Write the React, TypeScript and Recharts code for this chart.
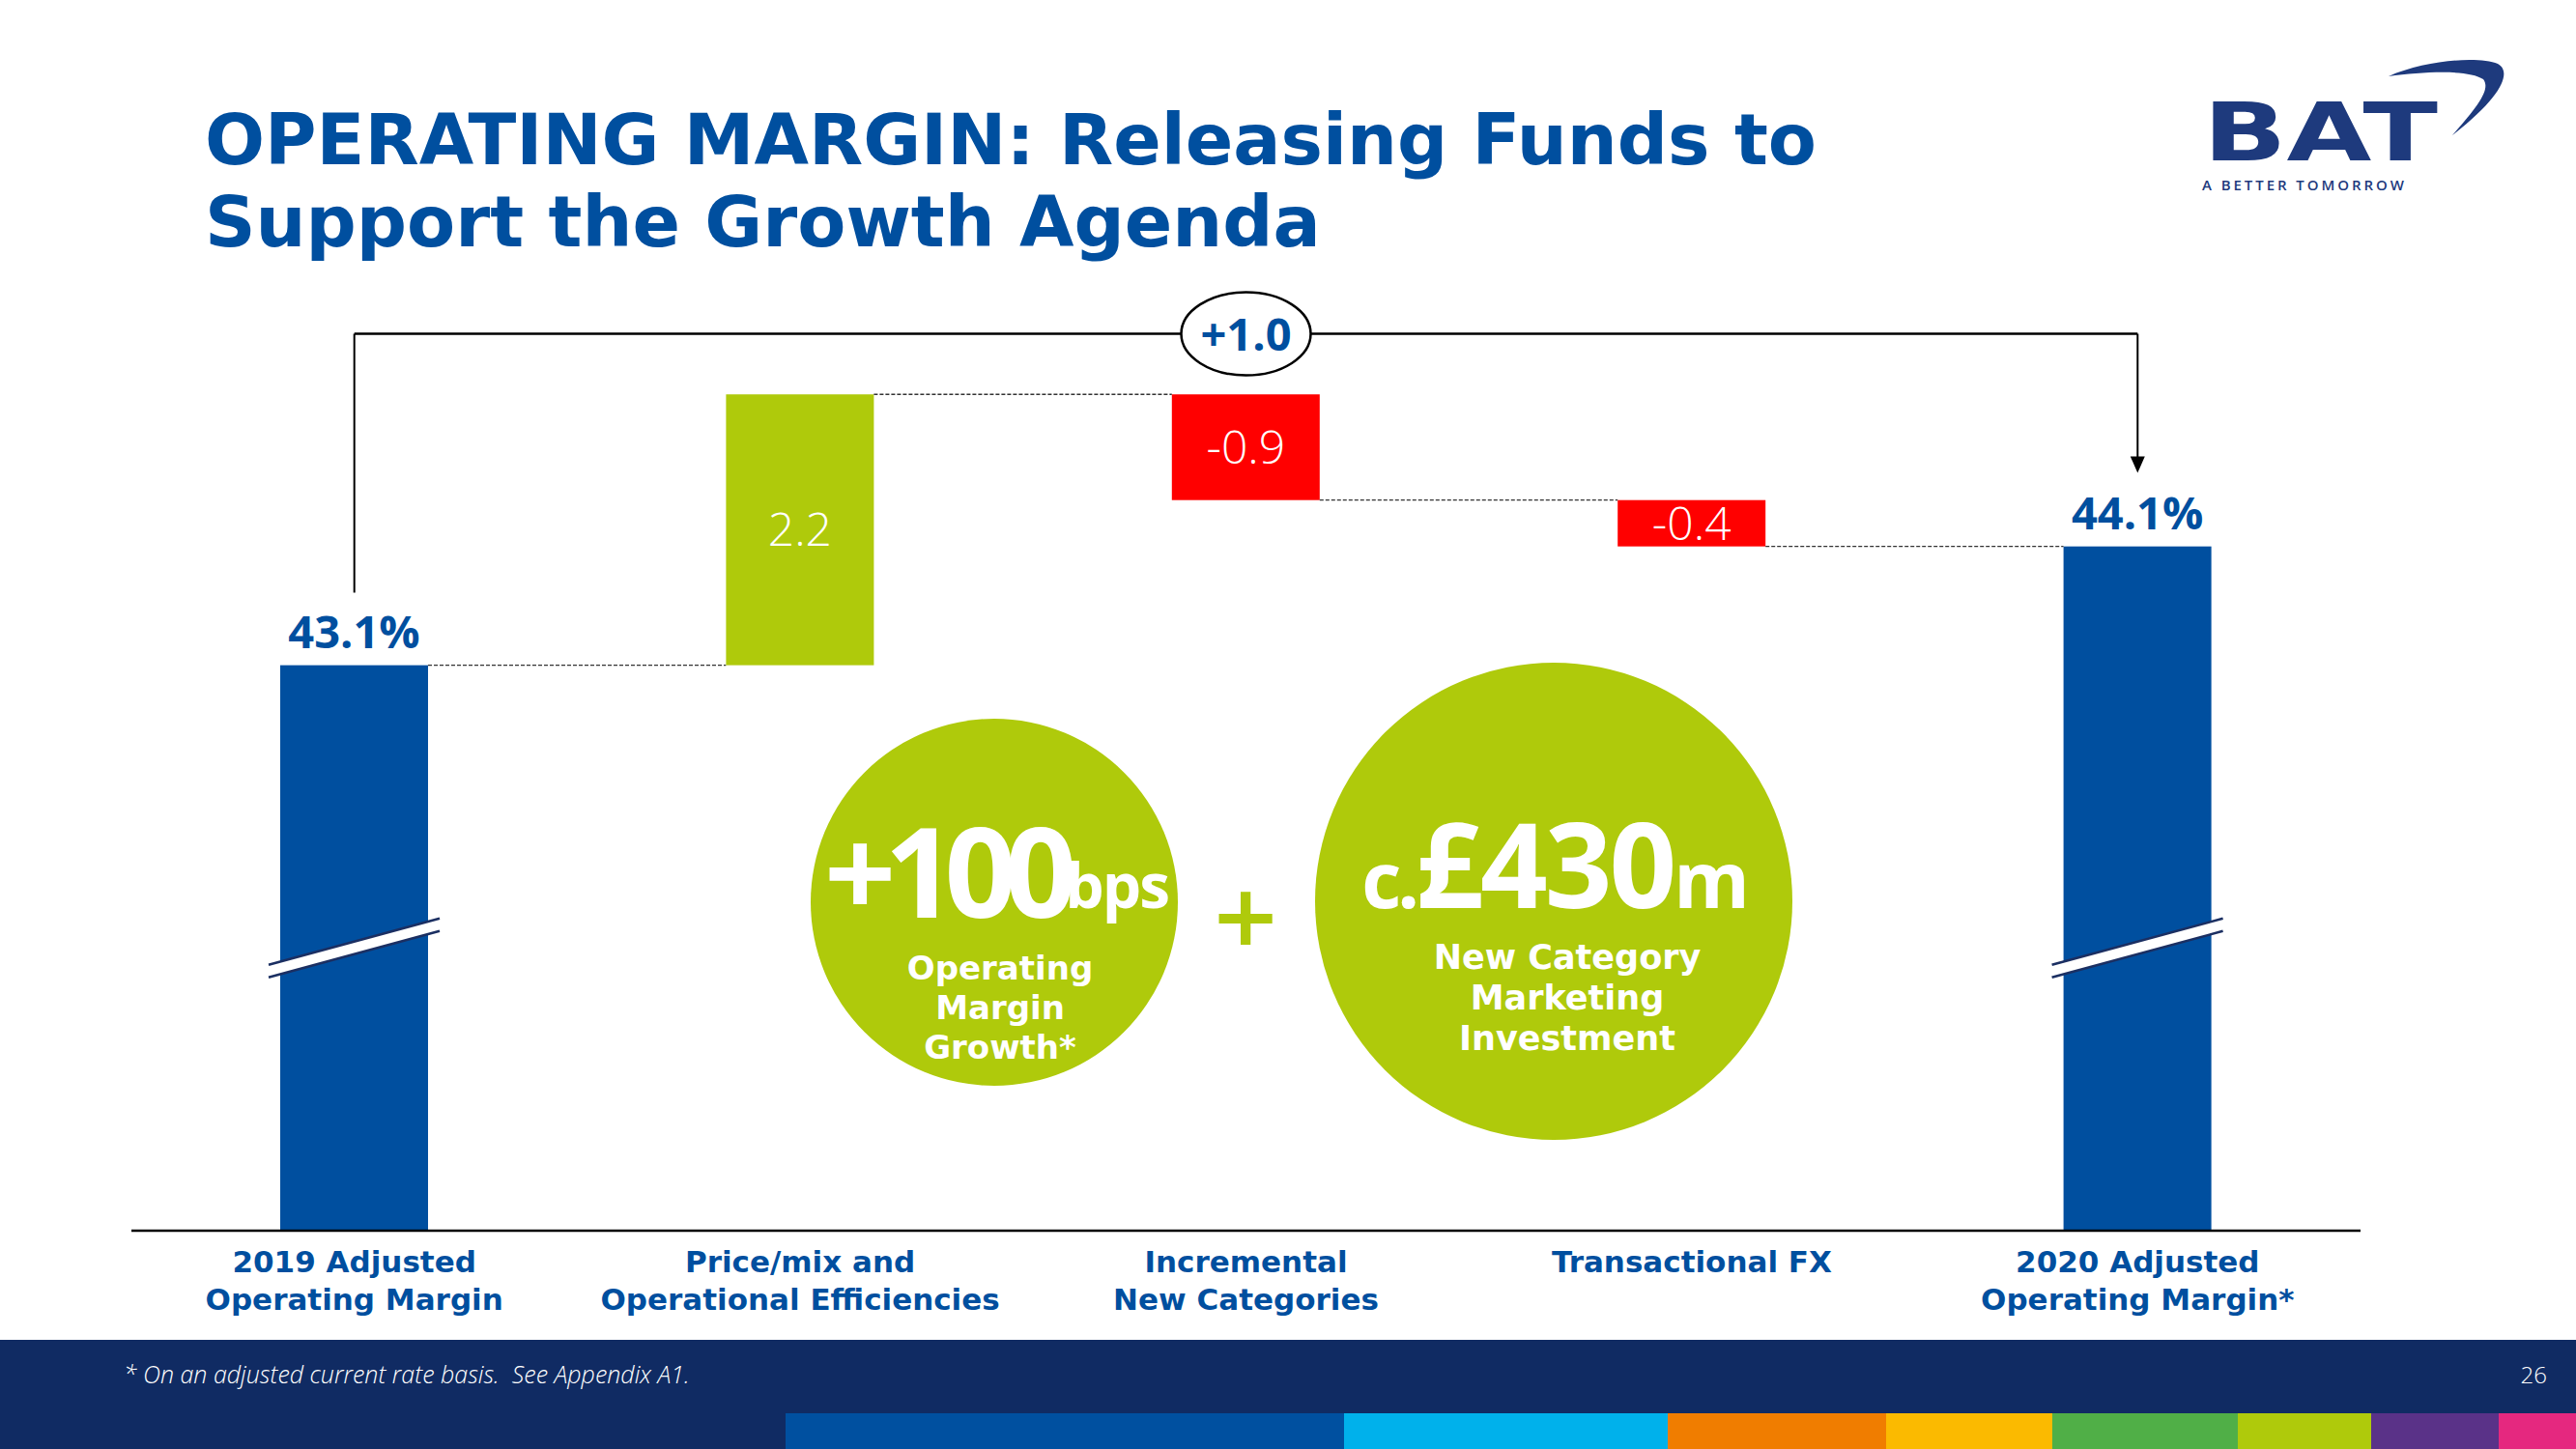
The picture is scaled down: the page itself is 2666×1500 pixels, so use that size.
import React from 'react';
import { ComposedChart, Bar, XAxis, YAxis, ReferenceLine, ReferenceDot } from 'recharts';

document.body.style.margin = '0';

// chart data
const categories = [
  '2019 Adjusted Operating Margin',
  'Price/mix and Operational Efficiencies',
  'Incremental New Categories',
  'Transactional FX',
  '2020 Adjusted Operating Margin*',
];
const tickLines = [
  ['2019 Adjusted', 'Operating Margin'],
  ['Price/mix and', 'Operational Efficiencies'],
  ['Incremental', 'New Categories'],
  ['Transactional FX'],
  ['2020 Adjusted', 'Operating Margin*'],
];
const startMargin = 43.1;
const endMargin = 44.1;
// step sizes as drawn (labels are rounded)
const steps = [2.28, -0.89, -0.39];
const valueLabels = ['43.1%', '2.2', '-0.9', '-0.4', '44.1%'];
const totalChangeLabel = '+1.0';

const WIDTH = 2666;
const HEIGHT = 1500;
const XAXIS_H = 100;
const MARGIN = { top: 332, right: 223, bottom: 126, left: 136 };
const Y_MIN = 38.34;
const Y_MAX = 46.0;
const BAR_SIZE = 153;
const BAND = (WIDTH - MARGIN.left - MARGIN.right) / categories.length;
const BREAK_LEVEL = 40.72;
const BRACKET_LEVEL = 45.89;
const LEFT_LEG_END = 43.71;
const ARROW_TIP = 44.72;

const BLUE = '#004F9F';
const LIME = '#AFCA0B';
const RED = '#FF0000';
const NAVY = '#102B63';
const LOGO = '#1E3A7D';
const COLORS: Record<string, string> = { total: BLUE, up: LIME, down: RED };

let level = startMargin;
const data = categories.map((name, i) => {
  if (i === 0 || i === categories.length - 1) {
    const v = i === 0 ? startMargin : endMargin;
    return { name, idx: i, range: [Y_MIN, v], low: Y_MIN, high: v, kind: 'total', endsHigh: true, label: valueLabels[i] };
  }
  const d = steps[i - 1];
  const from = level;
  level += d;
  const low = Math.min(from, level);
  const high = Math.max(from, level);
  return { name, idx: i, range: [low, high], low, high, kind: d >= 0 ? 'up' : 'down', endsHigh: d >= 0, label: valueLabels[i] };
});

function WaterfallBar(props: any) {
  const { x, y, width, height, payload } = props;
  const top = Math.min(y, y + height);
  const h = Math.abs(height);
  const cx = x + width / 2;
  const pxPerUnit = h / (payload.high - payload.low);
  const endY = payload.endsHigh ? top : top + h;
  const last = payload.idx === data.length - 1;
  const isTotal = payload.kind === 'total';

  let brk = null;
  if (isTotal) {
    const yb = top + (payload.high - BREAK_LEVEL) * pxPerUnit;
    const hw = width / 2 + 12;
    const rise = 24;
    const g = 6.5;
    brk = (
      <g>
        <polygon
          points={`${cx - hw},${yb + rise - g} ${cx + hw},${yb - rise - g} ${cx + hw},${yb - rise + g} ${cx - hw},${yb + rise + g}`}
          fill="#fff"
        />
        <line x1={cx - hw} y1={yb + rise - g} x2={cx + hw} y2={yb - rise - g} stroke="#1B2F62" strokeWidth={2.5} />
        <line x1={cx - hw} y1={yb + rise + g} x2={cx + hw} y2={yb - rise + g} stroke="#1B2F62" strokeWidth={2.5} />
      </g>
    );
  }

  return (
    <g>
      <rect x={x} y={top} width={width} height={h} fill={COLORS[payload.kind]} />
      {!last && (
        <line
          x1={x + width}
          x2={x + width + (BAND - width)}
          y1={endY}
          y2={endY}
          stroke="#333"
          strokeWidth={1.3}
          strokeDasharray="4 2"
        />
      )}
      {brk}
      {isTotal ? (
        <text x={cx} y={top - 18} textAnchor="middle" fill={BLUE} fontFamily="Open Sans" fontWeight={700} fontSize={47}>
          {payload.label}
        </text>
      ) : (
        <text x={cx} y={top + h / 2 + 17} textAnchor="middle" fill="#fff" fontFamily="Open Sans" fontWeight={300} fontSize={48}>
          {payload.label}
        </text>
      )}
    </g>
  );
}

function CategoryTick(props: any) {
  const { x, y, payload } = props;
  const lines = tickLines[categories.indexOf(payload.value)] || [];
  return (
    <text x={x} y={y} textAnchor="middle" fill={BLUE} fontFamily="DejaVu Sans" fontWeight="bold" fontSize={31}>
      {lines.map((l, i) => (
        <tspan key={i} x={x} dy={i === 0 ? 35 : 39}>
          {l}
        </tspan>
      ))}
    </text>
  );
}

function ArrowLine(props: any) {
  const { x1, y1, x2, y2 } = props;
  return (
    <g>
      <line x1={x1} y1={y1} x2={x2} y2={y2 - 14} stroke="#000" strokeWidth={2} />
      <polygon points={`${x2 - 7.5},${y2 - 17} ${x2 + 7.5},${y2 - 17} ${x2},${y2}`} fill="#000" />
    </g>
  );
}

function Bubble(props: any) {
  const { cx, cy } = props;
  return (
    <g>
      <ellipse cx={cx} cy={cy} rx={67} ry={43} fill="#fff" stroke="#000" strokeWidth={2.5} />
      <text x={cx} y={cy + 17} textAnchor="middle" fill={BLUE} fontFamily="Open Sans" fontWeight={700} fontSize={47}>
        {totalChangeLabel}
      </text>
    </g>
  );
}

const stripe = [
  { x: 813, w: 578, c: '#0050A0' },
  { x: 1391, w: 335, c: '#00B1EB' },
  { x: 1726, w: 226, c: '#F07D00' },
  { x: 1952, w: 172, c: '#FBBA00' },
  { x: 2124, w: 192, c: '#50AF47' },
  { x: 2316, w: 138, c: '#AFCA0B' },
  { x: 2454, w: 132, c: '#5A3288' },
  { x: 2586, w: 80, c: '#E5287F' },
];

export default function App() {
  return (
    <div style={{ position: 'relative', width: WIDTH, height: HEIGHT, background: '#fff', overflow: 'hidden' }}>
      <div style={{ position: 'absolute', left: 0, top: 0 }}>
        <ComposedChart width={WIDTH} height={HEIGHT} data={data} margin={MARGIN}>
          <XAxis
            dataKey="name"
            interval={0}
            height={XAXIS_H}
            tickLine={false}
            axisLine={{ stroke: '#000', strokeWidth: 2.5 }}
            tick={<CategoryTick />}
          />
          <YAxis hide type="number" domain={[Y_MIN, Y_MAX]} allowDataOverflow />
          <Bar dataKey="range" barSize={BAR_SIZE} shape={<WaterfallBar />} isAnimationActive={false} />
          <ReferenceLine
            segment={[{ x: categories[0], y: BRACKET_LEVEL }, { x: categories[4], y: BRACKET_LEVEL }]}
            stroke="#000"
            strokeWidth={2.5}
            ifOverflow="visible"
          />
          <ReferenceLine
            segment={[{ x: categories[0], y: BRACKET_LEVEL }, { x: categories[0], y: LEFT_LEG_END }]}
            stroke="#000"
            strokeWidth={2}
            ifOverflow="visible"
          />
          <ReferenceLine
            segment={[{ x: categories[4], y: BRACKET_LEVEL }, { x: categories[4], y: ARROW_TIP }]}
            shape={<ArrowLine />}
            ifOverflow="visible"
          />
          <ReferenceDot x={categories[2]} y={BRACKET_LEVEL} shape={<Bubble />} ifOverflow="visible" />
        </ComposedChart>
      </div>

      <svg width={WIDTH} height={HEIGHT} style={{ position: 'absolute', left: 0, top: 0, pointerEvents: 'none' }}>
        {/* title */}
        <text fill={BLUE} fontFamily="DejaVu Sans" fontWeight="bold" fontSize={73}>
          <tspan x={212} y={170}>OPERATING MARGIN: Releasing Funds to</tspan>
          <tspan x={212} y={255}>Support the Growth Agenda</tspan>
        </text>

        {/* logo */}
        <text x={2280} y={166} fill={LOGO} fontFamily="DejaVu Sans" fontWeight="bold" fontSize={84} textLength={243} lengthAdjust="spacingAndGlyphs">
          BAT
        </text>
        <text x={2279} y={197} fill={LOGO} fontFamily="Open Sans" fontWeight={600} fontSize={15} textLength={209} lengthAdjust="spacing">
          A BETTER TOMORROW
        </text>
        <path
          d="M2472 79 C 2510 62, 2565 58, 2585 66 C 2600 74, 2590 100, 2538 140 C 2565 110, 2578 92, 2570 82 C 2555 72, 2510 74, 2472 79 Z"
          fill={LOGO}
        />

        {/* callout circles */}
        <circle cx={1029} cy={934} r={190} fill={LIME} />
        <circle cx={1608} cy={933} r={247} fill={LIME} />
        <text x={1031} y={950} textAnchor="middle" fill="#fff" fontFamily="Open Sans" fontWeight={700}>
          <tspan fontSize={130} letterSpacing={-12}>+100</tspan>
          <tspan fontSize={64} dy={-10} letterSpacing={-2}>bps</tspan>
        </text>
        <text textAnchor="middle" fill="#fff" fontFamily="DejaVu Sans" fontWeight="bold" fontSize={34}>
          <tspan x={1035} y={1014}>Operating</tspan>
          <tspan x={1035} y={1055}>Margin</tspan>
          <tspan x={1035} y={1096}>Growth*</tspan>
        </text>
        <text x={1289} y={978} textAnchor="middle" fill={LIME} fontFamily="DejaVu Sans" fontWeight="bold" fontSize={88}>
          +
        </text>
        <text x={1610} y={940} textAnchor="middle" fill="#fff" fontFamily="Open Sans" fontWeight={700}>
          <tspan fontSize={80} letterSpacing={-4}>c.</tspan>
          <tspan fontSize={122} letterSpacing={-3}>£430</tspan>
          <tspan fontSize={80}>m</tspan>
        </text>
        <text textAnchor="middle" fill="#fff" fontFamily="DejaVu Sans" fontWeight="bold" fontSize={35}>
          <tspan x={1622} y={1003}>New Category</tspan>
          <tspan x={1622} y={1045}>Marketing</tspan>
          <tspan x={1622} y={1087}>Investment</tspan>
        </text>

        {/* footer */}
        <rect x={0} y={1387} width={WIDTH} height={113} fill={NAVY} />
        {stripe.map((s, i) => (
          <rect key={i} x={s.x} y={1463} width={s.w} height={37} fill={s.c} />
        ))}
        <text x={128} y={1432} fill="#fff" fontFamily="Open Sans" fontStyle="italic" fontWeight={300} fontSize={25} style={{ whiteSpace: 'pre' }}>
          * On an adjusted current rate basis.  See Appendix A1.
        </text>
        <text x={2636} y={1432} textAnchor="end" fill="#fff" fontFamily="Open Sans" fontWeight={300} fontSize={24}>
          26
        </text>
      </svg>
    </div>
  );
}
